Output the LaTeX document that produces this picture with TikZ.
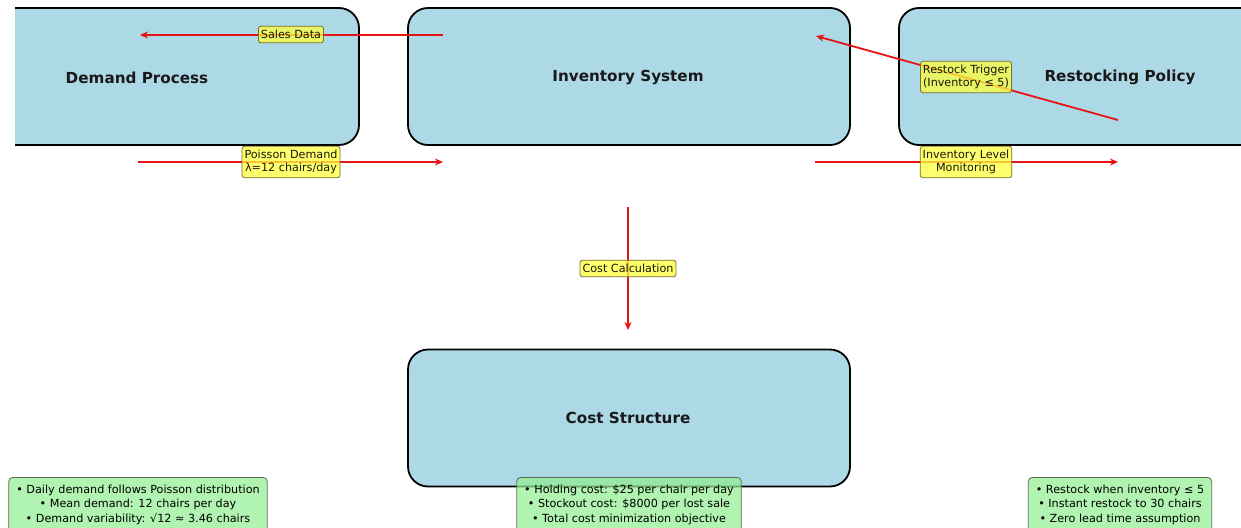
\documentclass[tikz,border=0pt]{standalone}
\usepackage{fontspec}
\setmainfont{DejaVu Sans}
\usetikzlibrary{arrows.meta}
\definecolor{boxblue}{RGB}{173,216,230}
\definecolor{flowred}{RGB}{230,20,20}
\definecolor{tagyellow}{RGB}{255,255,60}
\definecolor{tagedge}{RGB}{120,110,40}
\definecolor{notegreen}{RGB}{144,238,144}
\definecolor{noteedge}{RGB}{90,110,90}
\tikzset{
  stage/.style={draw=black, line width=1.8pt, fill=boxblue, rounded corners=20pt,
    minimum width=442pt, minimum height=137pt, inner sep=0pt},
  stagetitle/.style={font=\bfseries\fontsize{15.2}{17}\selectfont, text=black!90},
  flow/.style={draw=flowred, line width=1.8pt, -{Stealth[length=8pt,width=7pt]}},
  tag/.style={draw=tagedge, line width=0.8pt, fill=tagyellow, fill opacity=0.75, text opacity=0.9,
    rounded corners=2.5pt, inner xsep=2.5pt, inner ysep=4pt, align=center, font=\fontsize{11.2}{12.5}\selectfont},
  note/.style={draw=noteedge, line width=0.8pt, fill=notegreen, fill opacity=0.7, text opacity=1,
    rounded corners=4pt, inner xsep=7.5pt, inner ysep=7.5pt, align=center, font=\fontsize{11.2}{14.5}\selectfont, anchor=north},
}
\begin{document}
\begin{tikzpicture}[x=1pt,y=-1pt]
\useasboundingbox (0,0) rectangle (1241,527);
\begin{scope}
  \clip (15,0) rectangle (1241,527);
  % process stages
  \node[stage, minimum width=380pt] (demand) at (169,76.5) {};
  \node[stage] (inventory) at (629,76.5) {};
  \node[stage] (restock) at (1120,76.5) {};
  \node[stage] (cost) at (629,418) {};
\end{scope}
\node[stagetitle] (demandT) at (137,77.5) {Demand Process};
\node[stagetitle] (inventoryT) at (628,77.5) {Inventory System};
\node[stagetitle] (restockT) at (1120,77.5) {Restocking Policy};
\node[stagetitle] (costT) at (628,417.5) {Cost Structure};

% arrow end points
\coordinate (salesA) at (443,35);
\coordinate (salesB) at (140,35);
\coordinate (poisA) at (138,162);
\coordinate (poisB) at (443,162);
\coordinate (trigA) at (1118,120);
\coordinate (trigB) at (816,36);
\coordinate (monA) at (815,162);
\coordinate (monB) at (1118,162);
\coordinate (calcA) at (628,207);
\coordinate (calcB) at (628,330);

\draw[flow] (salesA) -- (salesB);
\draw[flow] (poisA) -- (poisB);
\draw[flow] (trigA) -- (trigB);
\draw[flow] (monA) -- (monB);
\draw[flow] (calcA) -- (calcB);

\node[tag] (salesL) at (291,34.5) {Sales Data};
\node[tag] (poisL) at (291,162) {Poisson Demand\\λ=12 chairs/day};
\node[tag] (trigL) at (966,77) {Restock Trigger\\(Inventory ≤ 5)};
\node[tag] (monL) at (966,162) {Inventory Level\\Monitoring};
\node[tag] (calcL) at (628,268.5) {Cost Calculation};

% notes
\node[note] (demandN) at (138,477) {• Daily demand follows Poisson distribution\\• Mean demand: 12 chairs per day\\• Demand variability: √12 ≈ 3.46 chairs};
\node[note] (costN) at (629,477) {• Holding cost: \$25 per chair per day\\• Stockout cost: \$8000 per lost sale\\• Total cost minimization objective};
\node[note] (restockN) at (1120,477) {• Restock when inventory ≤ 5\\• Instant restock to 30 chairs\\• Zero lead time assumption};
\end{tikzpicture}
\end{document}
